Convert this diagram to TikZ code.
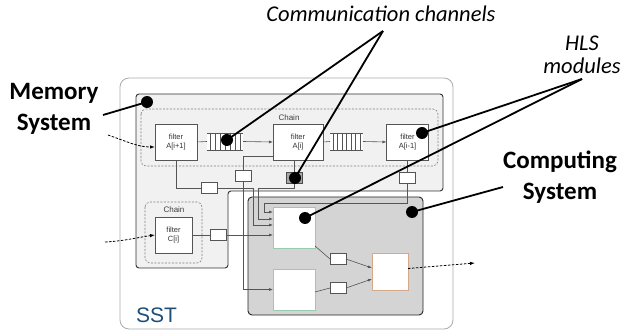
\documentclass[tikz,border=0pt]{standalone}
\usepackage{fontspec}
\setmainfont{Carlito}
\newfontfamily\arialf{Liberation Sans}
\usetikzlibrary{arrows.meta,calc}
\definecolor{memfill}{HTML}{F1F1F1}
\definecolor{compfill}{HTML}{D4D4D4}
\definecolor{sstblue}{HTML}{1F4E79}
\definecolor{wirec}{HTML}{555555}
\definecolor{modgreen}{HTML}{9ACBB0}
\definecolor{modorange}{HTML}{D6A88A}
\begin{document}
\begin{tikzpicture}[x=1pt,y=-1pt,
  wire/.style={draw=wirec,line width=0.6pt},
  arr/.style={wire,-{Latex[length=4pt,width=3pt]}},
  dasharr/.style={draw=black,line width=0.8pt,dash pattern=on 2.5pt off 1.5pt,-{Latex[length=5pt,width=3.5pt]}},
  callout/.style={draw=black,line width=1.8pt},
  dot/.style={circle,fill=black,inner sep=0pt,minimum size=12pt},
  box/.style={draw=wirec,fill=white,line width=0.6pt,inner sep=0pt,outer sep=0pt,align=center,
    font=\arialf\fontsize{7.5pt}{9pt}\selectfont,text=black!80},
  reg/.style={box,minimum width=16pt,minimum height=10.5pt},
  fifobox/.style={fill=white,inner sep=0pt,outer sep=0pt,minimum height=17pt},
  module/.style={fill=white,line width=0.8pt,inner sep=0pt,outer sep=0pt},
  smalllbl/.style={font=\arialf\fontsize{8pt}{9pt}\selectfont,text=black!75,inner sep=0pt},
  biglbl/.style={font=\fontsize{25pt}{31pt}\selectfont\bfseries,align=center,inner sep=0pt},
  itlbl/.style={font=\fontsize{22.5pt}{23.5pt}\selectfont\itshape,align=center,inner sep=0pt}
]
\useasboundingbox (0,0) rectangle (624,331);
\fill[white] (0,0) rectangle (624,331);

% SST outer box
\draw[draw=gray!65,line width=0.8pt,rounded corners=9pt] (120,78) rectangle (453,329);
\node[font=\arialf\fontsize{21pt}{24pt}\selectfont,text=sstblue,anchor=base west,inner sep=0pt] (sstlbl) at (136,322) {SST};

% Memory system
\draw[draw=black!80,line width=0.9pt,fill=memfill,rounded corners=3pt]
  (136,94) -- (443,94) -- (443,191) -- (228,191) -- (228,268) -- (136,268) -- cycle;
% Computing system
\draw[draw=black!85,line width=0.9pt,fill=compfill,rounded corners=4pt] (248,197) rectangle (423,315);

% Chain boxes
\draw[draw=gray,line width=0.6pt,dash pattern=on 2pt off 1.5pt,rounded corners=5pt] (141,109) rectangle (438,166);
\node[smalllbl] (chainA) at (289,118) {Chain};
\draw[draw=gray,line width=0.6pt,dash pattern=on 2pt off 1.5pt,rounded corners=5pt] (145,202) rectangle (202,263);
\node[smalllbl] (chainC) at (174,210) {Chain};

% filters
\node[box,minimum width=42pt,minimum height=36pt] (Ai1) at (176,142) {filter\\A[i+1]};
\node[box,minimum width=50pt,minimum height=36pt] (Ai) at (298,142) {filter\\A[i]};
\node[box,minimum width=42pt,minimum height=36pt] (Aim) at (407.5,142) {filter\\A[i-1]};
\node[box,minimum width=37pt,minimum height=36pt] (Ci) at (173.5,235) {filter\\C[i]};

% FIFOs
\node[fifobox,minimum width=36pt] (f1) at (225,141.5) {};
\node[fifobox,minimum width=33pt] (f2) at (346.5,141.5) {};
\draw[wire] (f1.north west) -- (f1.north east) (f1.south west) -- (f1.south east);
\draw[wire] (f2.north west) -- (f2.north east) (f2.south west) -- (f2.south east);
\foreach \i in {0,...,6}{
  \draw[wire] ($(f1.north west)+(3+5*\i,0)$) -- ($(f1.south west)+(3+5*\i,0)$);
  \draw[wire] ($(f2.north west)+(3+4.5*\i,0)$) -- ($(f2.south west)+(3+4.5*\i,0)$);
}

% registers
\node[reg] (rA1) at (209,188) {};
\node[reg] (rA0) at (243,176) {};
\node[reg,fill=black!35,draw=black!70] (cA) at (294,178) {};
\node[reg] (rAm) at (407.5,178) {};
\node[reg] (rC) at (218,235) {};
\node[reg] (r13) at (338,259) {};
\node[reg] (r23) at (338,288) {};

% modules
\node[module,draw=modgreen,minimum width=42pt,minimum height=41pt] (m1) at (294,227.5) {};
\node[module,draw=modgreen,minimum width=42pt,minimum height=41pt] (m2) at (294,289.5) {};
\node[module,draw=modorange,minimum width=36pt,minimum height=37pt] (m3) at (390,271.5) {};

% junction coordinates
\coordinate (j1) at (253,225);
\coordinate (j2) at (243,156);
\coordinate (j3) at (258,188);
\coordinate (j4) at (264,203);
\coordinate (m1a) at ($(m1.north west)+(0,5)$);
\coordinate (m1b) at ($(m1.north west)+(0,12)$);

% chain wires
\draw[wire] (Ai1.east) -- (f1.west);
\draw[arr] (f1.east) -- (Ai.west);
\draw[wire] (Ai.east) -- (f2.west);
\draw[arr] (f2.east) -- (Aim.west);

% memory to computing wires
\draw[wire] (Ai1.south) |- (rA1.west);
\draw[arr] (rA1.east) -| (j1) -- (j1 -| m1.west);
\draw[wire] (j2 -| Ai.west) -- (j2) -- (rA0.north);
\draw[arr] (rA0.south) |- (m2.west);
\draw[wire] (Ai.south -| cA.north) -- (cA.north);
\draw[arr] (cA.south) |- (j3) |- (m1b);
\draw[wire] (Aim.south) -- (rAm.north);
\draw[arr] (rAm.south) |- (j4) |- (m1a);
\draw[wire] (Ci.east) -- (rC.west);
\draw[arr] (rC.east) -- (rC.east -| m1.west);

% computing wires
\draw[wire] ($(m1.south east)+(0,-2)$) -- (r13.west);
\draw[arr] (r13.east) -- ($(m3.west)+(0,-3.5)$);
\draw[wire] ($(m2.east)+(0,2.5)$) -- (r23.west);
\draw[arr] (r23.east) -- ($(m3.west)+(0,7.5)$);

% dashed in/out
\coordinate (inA) at (108,135);
\coordinate (inC) at (105,242);
\coordinate (outM) at (475,263);
\draw[dasharr] (inA) .. controls (128,142) and (138,147) .. ($(Ai1.west)+(0,5)$);
\draw[dasharr] (inC) .. controls (125,241) and (140,237) .. (Ci.west);
\draw[dasharr] ($(m3.east)+(0,-3)$) -- (outM);

% labels
\node[biglbl] (memlbl) at (54,109) {Memory\\System};
\node[biglbl] (complbl) at (560,177) {Computing\\System};
\node[itlbl] (cclbl) at (381,14) {Communication channels};
\node[itlbl] (hlslbl) at (582,55) {HLS\\modules};

% callout dots
\node[dot] (dMem) at (147,102) {};
\node[dot] (dF1) at (227,140) {};
\node[dot] (dCh) at (295,178) {};
\node[dot] (dAm) at (422,133) {};
\node[dot] (dM1) at (305,218) {};
\node[dot] (dCS) at (412,212) {};

\coordinate (memtip) at (103,115);
\coordinate (ccap) at (383,31);
\coordinate (hlsap) at (582,79);
\coordinate (comptip) at (503,187);
\draw[callout] (memtip) -- (dMem.center);
\draw[callout] (ccap) -- (dF1.center);
\draw[callout] (ccap) -- (dCh.center);
\draw[callout] (hlsap) -- (dAm.center);
\draw[callout] (hlsap) -- (dM1.center);
\draw[callout] (comptip) -- (dCS.center);
\end{tikzpicture}
\end{document}
